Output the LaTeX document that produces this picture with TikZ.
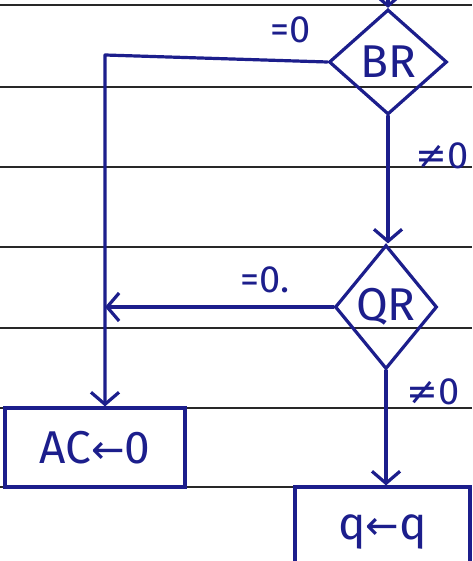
\documentclass[tikz,border=0pt]{standalone}
\usepackage{fontspec}
\setsansfont{Fira Sans}
\newfontfamily\symf{DejaVu Sans}
\usetikzlibrary{shapes.geometric,arrows.meta}
\definecolor{ink}{RGB}{28,30,140}
\definecolor{rule}{RGB}{40,40,40}
\tikzset{
  flow/.style={draw=ink, line width=3.2pt, line join=round, line cap=round},
  arr/.style={flow, -{Straight Barb[length=12pt,width=28pt,line width=3.2pt]}},
  dec/.style={diamond, draw=ink, line width=3.2pt, inner sep=0pt, text=ink,
              font=\sffamily\fontsize{46}{48}\selectfont},
  boxn/.style={rectangle, draw=ink, line width=3.2pt, inner sep=0pt, text=ink,
               font=\sffamily\fontsize{46}{48}\selectfont},
  lbl/.style={text=ink, font=\sffamily\fontsize{38}{40}\selectfont, inner sep=0pt},
  ruled/.style={draw=rule, line width=1.6pt}
}
\begin{document}
\begin{tikzpicture}[x=1pt,y=-1pt]
\useasboundingbox (0,0) rectangle (472,561);
\clip (0,0) rectangle (472,561);
\fill[white] (0,0) rectangle (472,561);
% notebook ruled lines
\foreach \yy in {5,87,167,247,328,408,487} {
  \draw[ruled] (0,\yy) -- (472,\yy);
}
% nodes
\node[dec, minimum width=118pt, minimum height=105pt] (BR) at (388,62) {BR};
\node[dec, minimum width=102pt, minimum height=124pt] (QR) at (386,307) {QR};
\node[boxn, minimum width=180pt, minimum height=79pt] (AC) at (95,447.5) {AC{\symf\fontsize{40}{40}\selectfont ←}0};
\node[boxn, minimum width=175pt, minimum height=90pt] (Q) at (382.5,532) {q{\symf\fontsize{40}{40}\selectfont ←}q};
% labels
\node[lbl] (l1) at (291,30) {=0};
\node[lbl] (l2) at (442,156) {{\symf ≠}0};
\node[lbl] (l3) at (265,280) {=0.};
\node[lbl] (l4) at (433,392) {{\symf ≠}0};
% connectors
\coordinate (top) at (388,-5);
\coordinate (c1) at (105,55);
\draw[arr] (top) -- (BR.north);
\draw[arr] (BR.west) -- (c1) -- (AC.north -| c1);
\draw[arr] (BR.south) -- (QR.north -| BR.south);
\draw[arr] (QR.west) -- (QR.west -| c1);
\draw[arr] (QR.south) -- (Q.north -| QR.south);
\end{tikzpicture}
\end{document}
